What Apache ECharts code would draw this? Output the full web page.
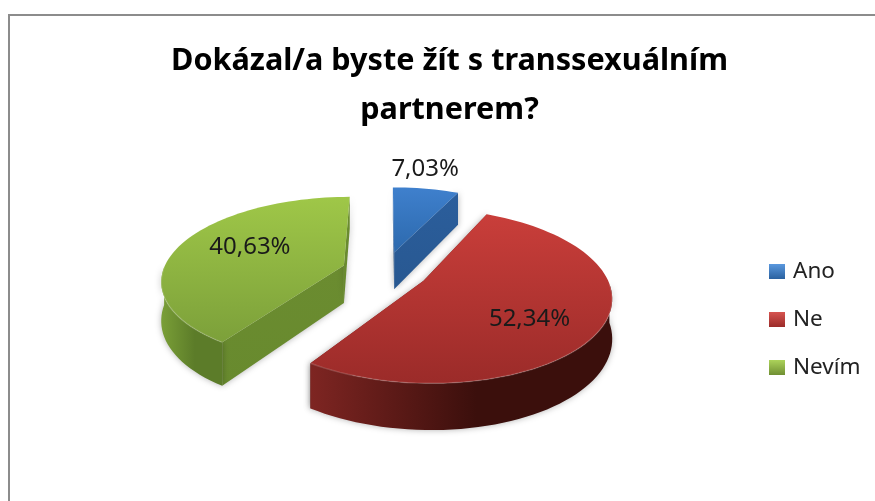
<!DOCTYPE html>
<html>
<head>
<meta charset="utf-8">
<style>
  html, body { margin: 0; padding: 0; background: #fff; }
  #main { width: 875px; height: 501px; }
</style>
<script src="https://cdn.jsdelivr.net/npm/echarts@6/dist/echarts.min.js"></script>
</head>
<body>
<div id="main"></div>
<script>
// data
var titleText = 'Dokázal/a byste žít s transsexuálním\npartnerem?';
var categories = ['Ano', 'Ne', 'Nevím'];
var percentValues = [7.03, 52.34, 40.63];

// perspective of the tilted pie, all slices go through project()
var CX = 385, CY = 271, RX = 181, RY = 81.7, PERSP = 0.167, DEPTH = 38, EXPLODE = 0.24;

var looks = [
  { top: ['#3f80cd', '#2c69ad'], face: ['#2b5e9c', '#285891'], wall: ['#2b5e9c', '#255186'], labelOff: [31, -83], legend: ['#5a98de', '#2a619f'] },
  { top: ['#c93e3a', '#9b2b29'], face: ['#7a2320', '#6a1d1a'], wall: ['#7e2522', '#3b0f0c'], labelOff: [106, 38], legend: ['#d65450', '#9b2b29'] },
  { top: ['#9fc748', '#7ca03a'], face: ['#6b8c30', '#688a2e'], wall: ['#7a9f37', '#5c7c29'], labelOff: [-94, -18], legend: ['#acd35a', '#708f33'] }
];

var total = percentValues.reduce(function (a, b) { return a + b; }, 0);

function project(X, Y, z) {
  var k = 1 / (1 - PERSP * Y);
  return [CX + RX * X * k, CY + RY * Y * k + DEPTH * z * k];
}

function renderSlice(params, api) {
  var idx = params.seriesIndex;
  var value = api.value(0);
  var before = 0;
  for (var i = 0; i < idx; i++) before += percentValues[i];
  var a0 = before / total * Math.PI * 2;
  var a1 = a0 + value / total * Math.PI * 2;
  var mid = (a0 + a1) / 2;
  var ox = EXPLODE * Math.sin(mid), oy = -EXPLODE * Math.cos(mid);
  var look = looks[idx];

  var topArc = [], botArc = [], nearTop = [], nearBot = [];
  var steps = Math.max(4, Math.round((a1 - a0) / 0.04));
  for (var s = 0; s <= steps; s++) {
    var a = a0 + (a1 - a0) * s / steps;
    var X = ox + Math.sin(a), Y = oy - Math.cos(a);
    topArc.push(project(X, Y, 0));
    botArc.push(project(X, Y, 1));
    // only the part of the rim that faces the viewer has a visible wall
    if (Math.cos(a) < 0) {
      nearTop.push(project(X, Y, 0));
      nearBot.push(project(X, Y, 1));
    }
  }
  var apexTop = project(ox, oy, 0), apexBot = project(ox, oy, 1);
  var vert = function (c) {
    return { type: 'linear', x: 0, y: 0, x2: 0, y2: 1, colorStops: [{ offset: 0, color: c[0] }, { offset: 1, color: c[1] }] };
  };
  var horiz = function (c) {
    return { type: 'linear', x: 0, y: 0, x2: 1, y2: 0, colorStops: [{ offset: 0, color: c[0] }, { offset: 0.55, color: c[1] }, { offset: 1, color: c[1] }] };
  };
  var shadow = { shadowBlur: 6, shadowColor: 'rgba(0,0,0,0.3)' };

  var children = [];
  // cut faces
  [0, steps].forEach(function (n) {
    children.push({
      type: 'polygon',
      shape: { points: [apexTop, topArc[n], botArc[n], apexBot] },
      style: Object.assign({ fill: vert(look.face) }, shadow)
    });
  });
  // outer wall
  if (nearTop.length > 1) {
    children.push({
      type: 'polygon',
      shape: { points: nearTop.concat(nearBot.slice().reverse()) },
      style: Object.assign({ fill: horiz(look.wall) }, shadow)
    });
  }
  // top surface
  children.push({
    type: 'polygon',
    shape: { points: [apexTop].concat(topArc) },
    style: { fill: vert(look.top) }
  });
  // thin light rim on the near arc
  if (nearTop.length > 1) {
    children.push({
      type: 'polyline',
      shape: { points: nearTop },
      style: { fill: null, stroke: 'rgba(255,255,255,0.16)', lineWidth: 1.5 }
    });
  }
  // label
  children.push({
    type: 'text',
    x: apexTop[0] + look.labelOff[0],
    y: apexTop[1] + look.labelOff[1],
    style: {
      text: value.toFixed(2).replace('.', ',') + '%',
      fontFamily: 'Noto Sans',
      fontSize: 24,
      fill: '#1a1a1a',
      align: 'center',
      verticalAlign: 'middle'
    }
  });
  return { type: 'group', children: children, silent: true };
}

var chart = echarts.init(document.getElementById('main'));
chart.setOption({
  animation: false,
  backgroundColor: '#fff',
  title: {
    text: titleText,
    left: 444.5,
    top: 32,
    textAlign: 'center',
    textStyle: { fontFamily: 'Noto Sans', fontWeight: 'bold', fontSize: 30.6, lineHeight: 49, color: '#000' }
  },
  legend: {
    orient: 'vertical',
    left: 764,
    top: 255,
    itemWidth: 16,
    itemHeight: 15,
    itemGap: 25,
    icon: 'rect',
    selectedMode: false,
    data: categories,
    textStyle: { fontFamily: 'Noto Sans', fontSize: 22.5, color: '#222', padding: [0, 0, 0, 3] }
  },
  graphic: [{
    type: 'rect',
    shape: { x: 9, y: 15, width: 900, height: 520 },
    style: { fill: 'none', stroke: '#8c8c8c', lineWidth: 2 },
    silent: true
  }],
  series: categories.map(function (name, i) {
    return {
      type: 'custom',
      name: name,
      coordinateSystem: 'none',
      renderItem: renderSlice,
      data: [[percentValues[i]]],
      itemStyle: { color: { type: 'linear', x: 0, y: 0, x2: 0, y2: 1, colorStops: [{ offset: 0, color: looks[i].legend[0] }, { offset: 1, color: looks[i].legend[1] }] } }
    };
  })
});
</script>
</body>
</html>
